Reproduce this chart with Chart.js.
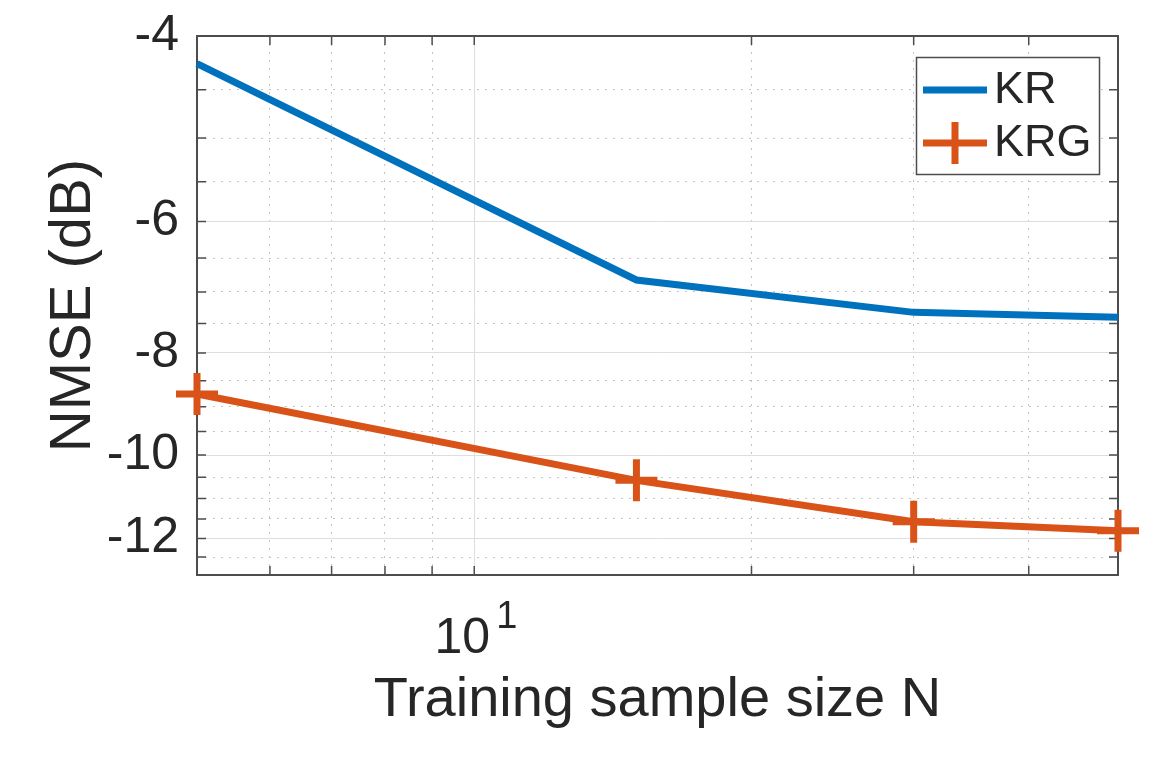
<!DOCTYPE html>
<html>
<head>
<meta charset="utf-8">
<script src="https://cdn.jsdelivr.net/npm/chart.js@4.4.1/dist/chart.umd.min.js"></script>
<style>
  html, body { margin: 0; padding: 0; background: #fff; }
</style>
</head>
<body>
<canvas id="chart" width="1158" height="757"></canvas>
<script>
// data (x is log, y is log of |NMSE|)
const sampleSize = [5, 15, 30, 50];
const krNmse = [-4.25, -6.82, -7.32, -7.40];
const krgNmse = [-8.75, -10.57, -11.57, -11.80];
const seriesNames = ["KR", "KRG"];

const xTicks = [6, 7, 8, 9, 10, 20, 30, 40];
const xMajor = [10];
const yTicks = [-4, -4.5, -5, -5.5, -6, -6.5, -7, -7.5, -8, -8.5, -9, -9.5, -10, -10.5, -11, -11.5, -12, -12.5];
const yMajor = [-4, -6, -8, -10, -12];

const FONT = "'Liberation Sans', Arial, Helvetica, sans-serif";
const TEXT = "#262626";
const AXIS = "#4d4d4d";
const BLUE = "#0072BD";
const ORANGE = "#D95319";
const GRID_MAJOR = "#dedede";
const GRID_MINOR = "#c4c4c4";

const isMajorX = v => xMajor.includes(v);
const isMajorY = v => yMajor.includes(-v);

// box, inward ticks, legend and the 10^1 exponent
const frame = {
    id: "frame",
    beforeDatasetsDraw(chart) {
        const { ctx, chartArea: a, scales: { x, y } } = chart;
        const TL = 9;
        ctx.save();
        ctx.strokeStyle = AXIS;
        ctx.lineWidth = 1.5;
        ctx.beginPath();
        x.ticks.forEach(t => {
            const px = x.getPixelForValue(t.value);
            ctx.moveTo(px, a.bottom); ctx.lineTo(px, a.bottom - TL);
            ctx.moveTo(px, a.top); ctx.lineTo(px, a.top + TL);
        });
        y.ticks.forEach(t => {
            const py = y.getPixelForValue(t.value);
            ctx.moveTo(a.left, py); ctx.lineTo(a.left + TL, py);
            ctx.moveTo(a.right, py); ctx.lineTo(a.right - TL, py);
        });
        ctx.stroke();
        ctx.lineWidth = 2;
        ctx.strokeRect(a.left, a.top, a.right - a.left, a.bottom - a.top);
        ctx.restore();
    },
    afterDraw(chart) {
        const { ctx, scales: { x } } = chart;
        ctx.save();
        // exponent of 10^1
        ctx.fillStyle = TEXT;
        ctx.font = "38px " + FONT;
        ctx.textAlign = "left";
        ctx.textBaseline = "alphabetic";
        ctx.fillText("1", x.getPixelForValue(10) + 22, 628);

        // legend
        const bx = 916, by = 57, bw = 183, bh = 117;
        ctx.fillStyle = "#fff";
        ctx.fillRect(bx, by, bw, bh);
        ctx.strokeStyle = AXIS;
        ctx.lineWidth = 1.5;
        ctx.strokeRect(bx + 0.5, by + 0.5, bw, bh);

        const rows = [
            { name: seriesNames[0], color: BLUE, y: 90, plus: false },
            { name: seriesNames[1], color: ORANGE, y: 143, plus: true }
        ];
        ctx.font = "45px " + FONT;
        rows.forEach(r => {
            ctx.strokeStyle = r.color;
            ctx.lineWidth = 7;
            ctx.beginPath();
            ctx.moveTo(923, r.y); ctx.lineTo(987, r.y);
            if (r.plus) { ctx.moveTo(955, r.y - 21); ctx.lineTo(955, r.y + 21); }
            ctx.stroke();
            ctx.fillStyle = TEXT;
            ctx.textBaseline = "middle";
            ctx.fillText(r.name, 994, r.y + 1);
        });
        ctx.restore();
    }
};

const ctx = document.getElementById("chart").getContext("2d");

new Chart(ctx, {
    type: "line",
    data: {
        datasets: [
            {
                label: seriesNames[0],
                data: sampleSize.map((n, i) => ({ x: n, y: -krNmse[i] })),
                borderColor: BLUE,
                backgroundColor: BLUE,
                borderWidth: 7,
                pointRadius: 0,
                tension: 0,
                clip: false
            },
            {
                label: seriesNames[1],
                data: sampleSize.map((n, i) => ({ x: n, y: -krgNmse[i] })),
                borderColor: ORANGE,
                backgroundColor: ORANGE,
                borderWidth: 7,
                pointStyle: "cross",
                pointRadius: 21,
                pointBorderWidth: 7,
                pointBorderColor: ORANGE,
                tension: 0,
                clip: false
            }
        ]
    },
    options: {
        responsive: false,
        animation: false,
        devicePixelRatio: 1,
        layout: { padding: { top: 36, right: 40, left: 0, bottom: 0 } },
        plugins: { legend: { display: false }, tooltip: { enabled: false } },
        scales: {
            x: {
                type: "logarithmic",
                min: 5,
                max: 50,
                afterBuildTicks: s => { s.ticks = xTicks.map(v => ({ value: v })); },
                afterFit: s => { s.height = 182; s.paddingLeft = 0; s.paddingRight = 0; },
                grid: {
                    drawTicks: false,
                    lineWidth: 1,
                    color: c => (c.tick && isMajorX(c.tick.value)) ? GRID_MAJOR : GRID_MINOR
                },
                border: {
                    display: false,
                    dash: c => (c.type === "tick" && c.tick && !isMajorX(c.tick.value)) ? [2, 6] : []
                },
                ticks: {
                    autoSkip: false,
                    maxRotation: 0,
                    padding: 34,
                    labelOffset: -12,
                    color: TEXT,
                    font: { family: FONT, size: 50 },
                    callback: v => isMajorX(v) ? String(v) : ""
                },
                title: {
                    display: true,
                    text: "Training sample size N",
                    color: TEXT,
                    font: { family: FONT, size: 56 },
                    padding: { top: 0, bottom: 23 }
                }
            },
            y: {
                type: "logarithmic",
                reverse: true,
                min: 4,
                max: 13,
                afterBuildTicks: s => { s.ticks = yTicks.map(v => ({ value: -v })); },
                afterFit: s => { s.width = 197; s.paddingTop = 0; s.paddingBottom = 0; },
                grid: {
                    drawTicks: false,
                    lineWidth: 1,
                    color: c => (c.tick && isMajorY(c.tick.value)) ? GRID_MAJOR : GRID_MINOR
                },
                border: {
                    display: false,
                    dash: c => (c.type === "tick" && c.tick && !isMajorY(c.tick.value)) ? [2, 6] : []
                },
                ticks: {
                    autoSkip: false,
                    padding: 18,
                    color: TEXT,
                    font: { family: FONT, size: 50 },
                    callback: v => isMajorY(v) ? String(-v) : ""
                },
                title: {
                    display: true,
                    text: "NMSE (dB)",
                    color: TEXT,
                    font: { family: FONT, size: 58 },
                    padding: { top: 39, bottom: 0 }
                }
            }
        }
    },
    plugins: [frame]
});
</script>
</body>
</html>
